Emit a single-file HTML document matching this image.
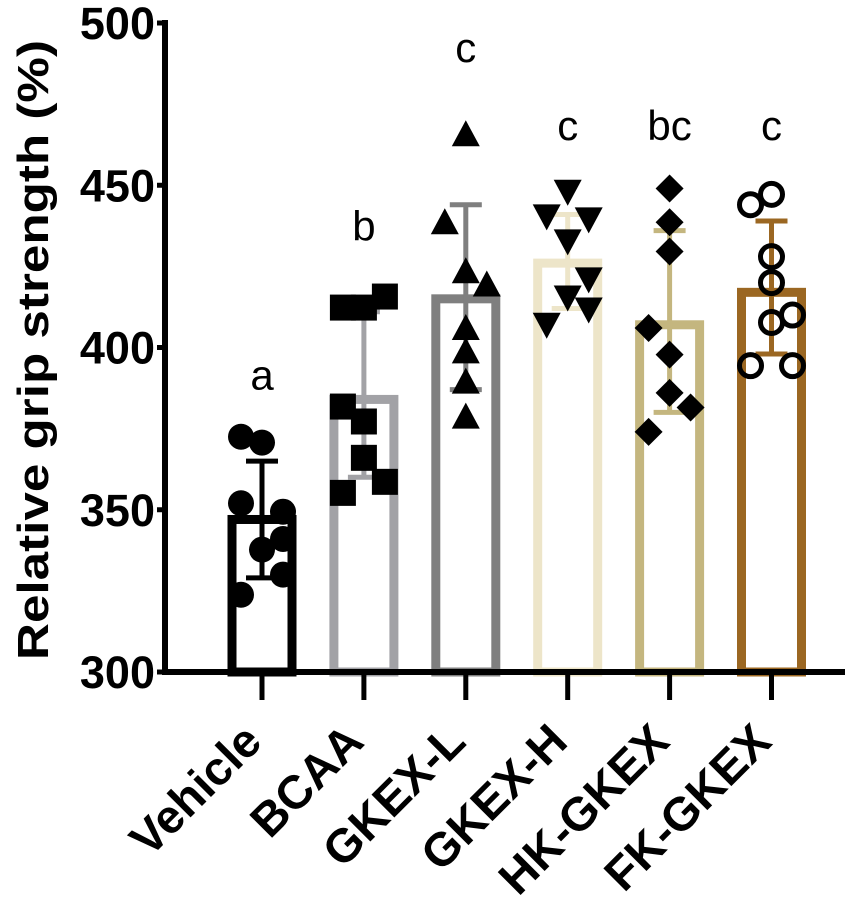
<!DOCTYPE html>
<html><head><meta charset="utf-8"><style>
html,body{margin:0;padding:0;background:#fff;}
svg{display:block;font-family:"Liberation Sans",Arial,sans-serif;}
</style></head><body>
<svg id="chart" width="850" height="909" viewBox="0 0 850 909" xmlns="http://www.w3.org/2000/svg">
<g id="plot"></g>
</svg>
<script>
const categories = ["Vehicle","BCAA","GKEX-L","GKEX-H","HK-GKEX","FK-GKEX"];
const means = [347, 384, 415, 426, 407, 417];
const errTop = [365, 411, 444, 441, 436, 439];
const errBot = [329, 360, 387, 412, 380, 398];
const letters = ["a","b","c","c","bc","c"];
const letterVals = [387, 433, 488, 464, 464, 464];
const pts0 = [372.5,370.7,352,349.4,341,337.7,330,323.8];
const pts1 = [412.3,412.3,415.7,381.8,377.2,366,358.6,355.2];
const pts2 = [465.7,438.6,423.5,419.4,406,398.8,389.5,378.7];
const pts3 = [448,440.4,439.5,432.7,421,415.4,411.7,407];
const pts4 = [449,438.6,429.6,406,397.8,386,381.5,374];
const pts5 = [444,447.2,428,420,410,407.7,394.4,394.4];
const points = [pts0,pts1,pts2,pts3,pts4,pts5];
const jitter = [[-1,0,-1,1,1,0,1,-1],[-1,0,1,-1,0,0,1,-1],[0,-1,0,1,0,0,0,0],[0,-1,1,0,1,0,1,-1],[0,0,0,-1,0,0,1,-1],[-1,0,0,0,1,0,-1,1]];
const yTicks = [300,350,400,450,500];
const colors = ["#000000","#a2a2a6","#7f7f7f","#ede5c9","#c4b67f","#9b6722"];
const shapes = ["circle","square","triangle","tri-down","diamond","ring"];

const NS="http://www.w3.org/2000/svg";
const plot=document.getElementById('plot');
const X0=165, Y0=672, PX=3.245;
function y(v){return Y0-(v-300)*PX;}
function x(i){return 262+i*101.9;}
function mk(tag,attrs,parent){const e=document.createElementNS(NS,tag);for(const k in attrs)e.setAttribute(k,attrs[k]);(parent||plot).appendChild(e);return e;}

categories.forEach((c,i)=>{
  const cx=x(i), w=60;
  const r=mk('rect',{x:cx-w/2,y:y(means[i]),width:w,height:Y0-y(means[i]),fill:'none',stroke:colors[i],'stroke-width':9});
  
  
  const e=mk('path',{d:`M${cx},${y(errTop[i])}V${y(errBot[i])}M${cx-16},${y(errTop[i])}H${cx+16}M${cx-16},${y(errBot[i])}H${cx+16}`,stroke:colors[i],'stroke-width':5,fill:'none'});
  
  
});
points.forEach((arr,i)=>{
  arr.forEach((v,j)=>{
    const px=x(i)+jitter[i][j]*21, py=y(v);
    let el;
    const s=shapes[i];
    if(s==='circle') el=mk('circle',{cx:px,cy:py,r:13,fill:'#000'});
    else if(s==='ring') el=mk('circle',{cx:px,cy:py,r:11,fill:'none',stroke:'#000','stroke-width':5});
    else if(s==='square') el=mk('rect',{x:px-13,y:py-13,width:26,height:26,fill:'#000'});
    else if(s==='triangle') el=mk('path',{d:`M${px},${py-14}L${px+14},${py+12}L${px-14},${py+12}Z`,fill:'#000'});
    else if(s==='tri-down') el=mk('path',{d:`M${px},${py+14}L${px+14},${py-12}L${px-14},${py-12}Z`,fill:'#000'});
    else el=mk('path',{d:`M${px},${py-14}L${px+14},${py}L${px},${py+14}L${px-14},${py}Z`,fill:'#000'});
    
    
  });
  const t=mk('text',{x:x(i),y:y(letterVals[i]),'font-size':42,'text-anchor':'middle',fill:'#000'});
  t.textContent=letters[i];
  
  
});
const ya=mk('path',{d:`M${X0},${y(500)-3}V${Y0+3}`,stroke:'#000','stroke-width':6,fill:'none'});


const xa=mk('path',{d:`M${X0-3},${Y0}H845`,stroke:'#000','stroke-width':6,fill:'none'});


yTicks.forEach(v=>{
  const tk=mk('path',{d:`M${X0-8},${y(v)}H${X0}`,stroke:'#000','stroke-width':5});
  
  
  const t=mk('text',{x:X0-10,y:y(v)+16,'font-size':45,'font-weight':'bold','text-anchor':'end',fill:'#000'});
  t.textContent=v;
  
  
});
categories.forEach((c,i)=>{
  const tk=mk('path',{d:`M${x(i)},${Y0}V${Y0+28}`,stroke:'#000','stroke-width':5});
  
  
  const t=mk('text',{x:0,y:0,'font-size':47,'font-weight':'bold','text-anchor':'end',fill:'#000',transform:`translate(${x(i)+2},${Y0+72}) rotate(-45)`});
  t.textContent=c;
  
  
});
const yt=mk('text',{x:0,y:0,'font-size':44,'font-weight':'bold','text-anchor':'middle',fill:'#000',transform:`translate(48,350) rotate(-90)`,textLength:620,lengthAdjust:'spacingAndGlyphs'});
yt.textContent='Relative grip strength (%)';


</script>
</body></html>
